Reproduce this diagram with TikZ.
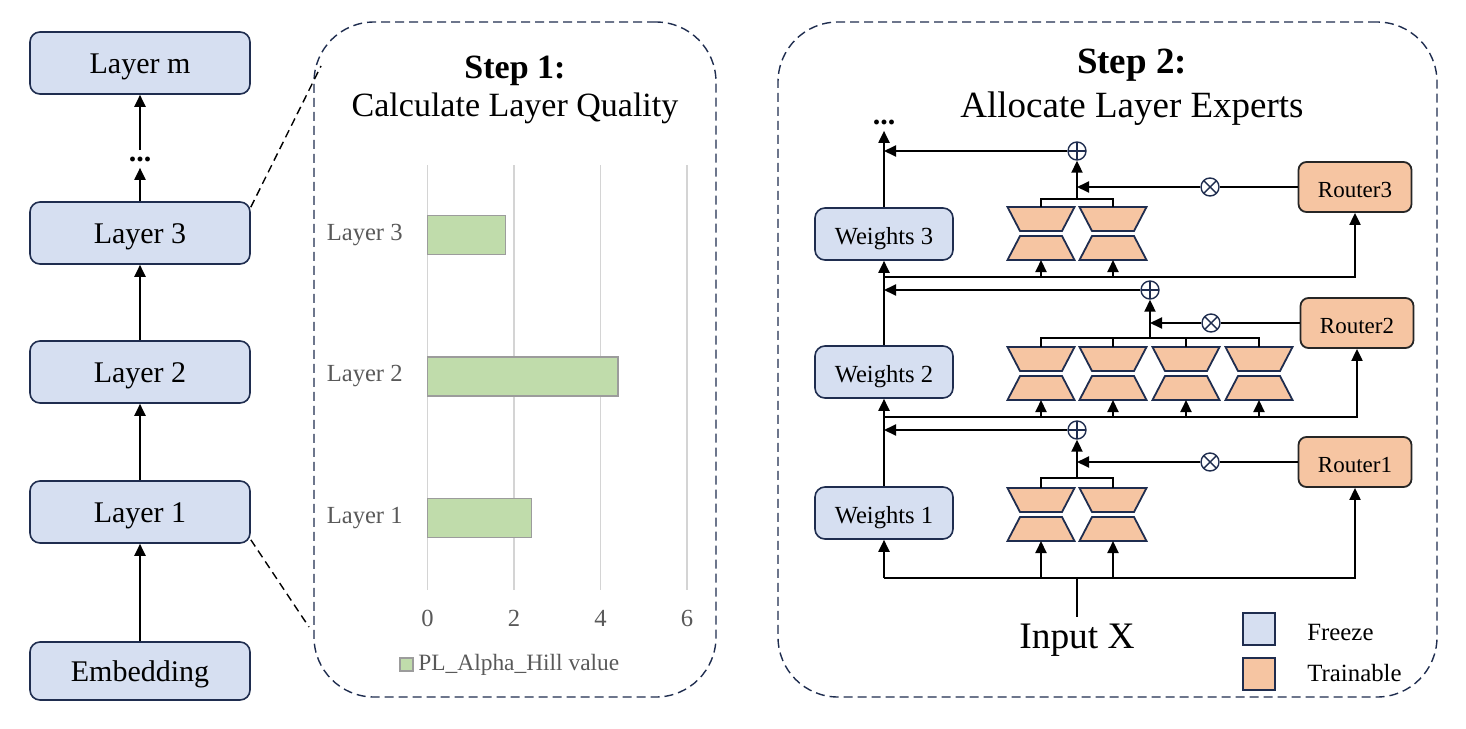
\documentclass[tikz,border=0pt]{standalone}
\usepackage{fontspec}
\setmainfont{Liberation Serif}
\usetikzlibrary{arrows.meta,positioning}
\definecolor{navy}{HTML}{1F2D4F}
\definecolor{frz}{HTML}{D6DFF1}
\definecolor{trn}{HTML}{F6C5A2}
\definecolor{barg}{HTML}{C0DCAB}
\definecolor{barb}{HTML}{9C9C9C}
\definecolor{gridc}{HTML}{D4D4D4}
\definecolor{lbl}{HTML}{595959}

\begin{document}
\begin{tikzpicture}[y=-0.5pt,x=0.5pt,
	layerbox/.style={draw=navy,line width=0.8pt,fill=frz,rounded corners=5pt,minimum width=110pt,minimum height=31pt,inner sep=0pt,text height=1.05em,text depth=0pt,font=\fontsize{15}{18}\selectfont},
	wbox/.style={draw=navy,line width=0.8pt,fill=frz,rounded corners=5pt,minimum width=69pt,minimum height=26pt,inner sep=0pt,text height=1.0em,text depth=0pt,font=\fontsize{12.3}{15}\selectfont},
	rbox/.style={draw=black!85,line width=0.9pt,fill=trn,rounded corners=4pt,minimum width=56.5pt,minimum height=25pt,inner sep=0pt,text height=1.0em,text depth=0pt,font=\fontsize{11.5}{14}\selectfont},
	expert/.style={draw=navy,line width=0.9pt,fill=trn},
	arr/.style={line width=1pt,-{Triangle[length=6pt,width=5.5pt]}},
	link/.style={line width=1pt},
	panel/.style={draw=navy,line width=0.7pt,dash pattern=on 4.5pt off 2.5pt,rounded corners=30pt},
	zoomline/.style={draw=black,line width=0.7pt,dash pattern=on 4pt off 2.5pt},
	opnode/.style={circle,draw=navy,line width=0.7pt,fill=white,minimum size=9pt,inner sep=0pt},
	plusop/.style={opnode,path picture={\draw[navy,line width=0.7pt] (path picture bounding box.north) -- (path picture bounding box.south) (path picture bounding box.west) -- (path picture bounding box.east);}},
	timesop/.style={opnode,path picture={\draw[navy,line width=0.7pt] (path picture bounding box.north west) -- (path picture bounding box.south east) (path picture bounding box.north east) -- (path picture bounding box.south west);}},
	gridline/.style={draw=gridc,line width=0.6pt},
	barbox/.style={draw=barb,line width=0.8pt,fill=barg},
	ticklbl/.style={text=lbl,inner sep=0pt,font=\fontsize{12.3}{15}\selectfont},
	ellip/.style={inner sep=3pt,font=\bfseries\fontsize{15}{18}\selectfont},
	keybox/.style={draw=navy,line width=1pt,minimum size=16pt,inner sep=0pt},
	keytext/.style={anchor=west,inner sep=0pt,font=\fontsize{12.4}{15}\selectfont}]
	\newcommand\ExpUp{+(-33.5,0) -- +(33.5,0) -- +(21,24) -- +(-21,24) -- cycle}
	\newcommand\ExpDown{+(-21,29) -- +(21,29) -- +(33.5,53) -- +(-33.5,53) -- cycle}

	\useasboundingbox (0,0) rectangle (1466,728);

	% layer stack
	\node[layerbox,minimum height=29pt] (emb) at (140,671) {Embedding};
	\node[layerbox] (l1) at (140,512) {Layer 1};
	\node[layerbox] (l2) at (140,372) {Layer 2};
	\node[layerbox] (l3) at (140,233) {Layer 3};
	\node[ellip] (ldots) at (140,159) {...};
	\node[layerbox] (lm) at (140,63) {Layer m};
	\foreach \a/\b in {emb/l1,l1/l2,l2/l3,l3/ldots,ldots/lm}
		\draw[arr] (\a.north) -- (\b.south);

	% panels
	\node[panel,minimum width=201pt,minimum height=337.5pt] (step1) at (515,359.5) {};
	\node[panel,minimum width=329.5pt,minimum height=337.5pt] (step2) at (1107.5,359.5) {};
	\coordinate (z1) at (321,66);
	\coordinate (z2) at (309,627);
	\draw[zoomline] ([yshift=-3pt]l3.north east) -- (z1);
	\draw[zoomline] ([yshift=2pt]l1.south east) -- (z2);

	% step 1
	\node[font=\bfseries\fontsize{17}{20}\selectfont,anchor=base] (t1a) at (515,78) {Step 1:};
	\node[font=\fontsize{17}{20}\selectfont,anchor=base] (t1b) at (515,116) {Calculate Layer Quality};
	\foreach \v in {0,2,4,6} {
		\draw[gridline] (427.5+43.25*\v,165) -- (427.5+43.25*\v,590);
		\node[ticklbl] (tick\v) at (427.5+43.25*\v,618) {\v};
	}
	\foreach \n/\v/\y in {3/1.8/235,2/4.4/376.5,1/2.4/518} {
		\draw[barbox] (427.5,\y-19.5) rectangle (427.5+43.25*\v,\y+19.5);
		\node[ticklbl,anchor=east] (bl\n) at (403,\y) {Layer \n};
	}
	\draw[barbox] (400,658) rectangle (413,671);
	\node[ticklbl,anchor=west,font=\fontsize{11.7}{14}\selectfont] (lgd) at (418,664.5) {PL\_Alpha\_Hill value};

	% step 2
	\node[font=\bfseries\fontsize{18.5}{22}\selectfont,anchor=base] (t2a) at (1132,73) {Step 2:};
	\node[font=\fontsize{18.5}{22}\selectfont,anchor=base] (t2b) at (1132,117) {Allocate Layer Experts};

	\node[wbox] (w1) at (884,513) {Weights 1};
	\node[wbox] (w2) at (884,372) {Weights 2};
	\node[wbox] (w3) at (884,234) {Weights 3};
	\node[ellip] (wdots) at (884,122) {...};
	\node[rbox] (r1) at (1355,462) {Router1};
	\node[rbox] (r2) at (1357,323) {Router2};
	\node[rbox] (r3) at (1355,187) {Router3};
	\node[plusop] (p1) at (1077,430) {};
	\node[plusop] (p2) at (1150,290) {};
	\node[plusop] (p3) at (1077,151) {};
	\node[timesop] (m1) at (1210,462) {};
	\node[timesop] (m2) at (1211,323) {};
	\node[timesop] (m3) at (1210,187) {};
	\node[font=\fontsize{18.7}{22}\selectfont] (inx) at (1077,640) {Input X};

	\coordinate (in1) at (1077,578);
	\coordinate (in2) at (884,417);
	\coordinate (in3) at (884,277);
	\coordinate (j1) at (1077,478);
	\coordinate (j2) at (1150,338);
	\coordinate (j3) at (1077,199);

	% experts
	\foreach \k/\x in {1/1041,2/1113} {
		\coordinate (e1\k) at (\x,488);
		\coordinate (b1\k) at (\x,541);
		\draw[expert] (e1\k) \ExpUp (e1\k) \ExpDown;
		\draw[arr] (b1\k |- in1) -- (b1\k);
		\coordinate (e3\k) at (\x,207);
		\coordinate (b3\k) at (\x,260);
		\draw[expert] (e3\k) \ExpUp (e3\k) \ExpDown;
		\draw[arr] (b3\k |- in3) -- (b3\k);
	}
	\foreach \k/\x in {1/1041,2/1113,3/1186,4/1259} {
		\coordinate (e2\k) at (\x,347);
		\coordinate (b2\k) at (\x,400);
		\draw[expert] (e2\k) \ExpUp (e2\k) \ExpDown;
		\draw[arr] (b2\k |- in2) -- (b2\k);
	}
	\draw[link] (e11) |- (j1) -| (e12);
	\draw[link] (e31) |- (j3) -| (e32);
	\draw[link] (e21) |- (j2) -| (e24);
	\draw[link] (e22) -- (e22 |- j2);
	\draw[link] (e23) -- (e23 |- j2);

	% gating and sums
	\foreach \i in {1,2,3} {
		\draw[arr] (j\i) -- (p\i.south);
		\draw[link] (r\i.west) -- (m\i.east);
		\draw[arr] (m\i.west) -- (m\i -| j\i);
		\draw[arr] (p\i.west) -- (p\i -| w\i);
	}

	% trunk and inputs
	\draw[link] (inx.north) -- (in1);
	\draw[arr] (in1 -| w1) -- (w1.south);
	\draw[arr] (in1 -| w1) -- (in1 -| r1) -- (r1.south);
	\draw[arr] (w1.north) -- (w2.south);
	\draw[arr] (in2) -- (in2 -| r2) -- (r2.south);
	\draw[arr] (w2.north) -- (w3.south);
	\draw[arr] (in3) -- (in3 -| r3) -- (r3.south);
	\draw[arr] (w3.north) -- (wdots.south);

	% key
	\node[keybox,fill=frz] (kfrz) at (1258.5,628.5) {};
	\node[keybox,fill=trn] (ktrn) at (1258.5,673.5) {};
	\node[keytext] (tfrz) at (1307,632) {Freeze};
	\node[keytext] (ttrn) at (1307,673) {Trainable};
\end{tikzpicture}
\end{document}
